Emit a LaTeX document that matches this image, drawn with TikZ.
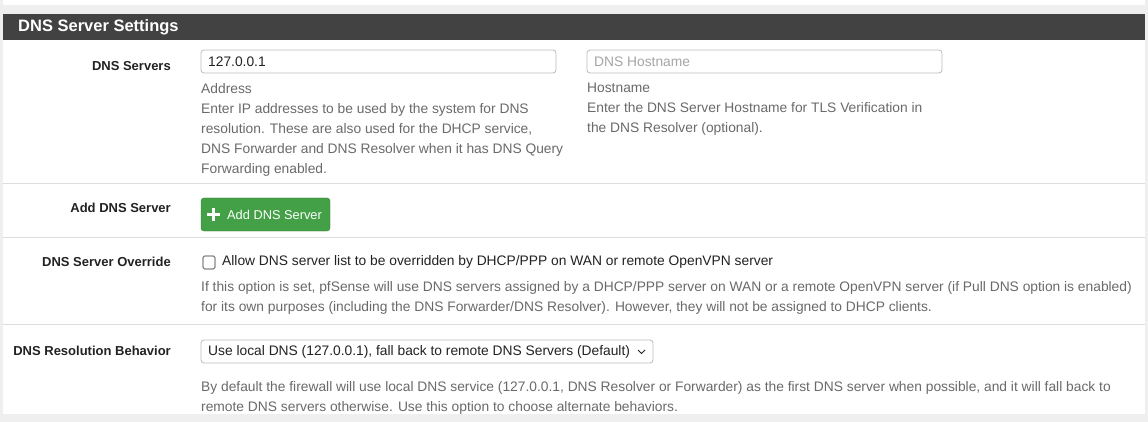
\documentclass[tikz,border=0pt]{standalone}
\usepackage{fontspec}
\setmainfont{Liberation Sans}
\definecolor{pagebg}{HTML}{EFEFEF}
\definecolor{headbg}{HTML}{424242}
\definecolor{rule}{HTML}{DDDDDD}
\definecolor{helptext}{HTML}{6A6A6A}
\definecolor{labeltext}{HTML}{222222}
\definecolor{btngreen}{HTML}{43A047}
\definecolor{boxline}{HTML}{BBBBBB}
\tikzset{
  lbl/.style={anchor=east, font=\fontsize{13}{15}\selectfont\bfseries, text=labeltext, inner sep=0pt},
  help/.style={anchor=west, font=\fontsize{13.8}{20}\selectfont, text=helptext, inner sep=0pt, align=left},
  field/.style={draw=boxline, rounded corners=3pt, fill=white, line width=0.8pt},
  val/.style={anchor=west, font=\fontsize{13.8}{15}\selectfont, text=labeltext, inner sep=0pt}
}
\begin{document}
\begin{tikzpicture}[x=1pt, y=-1pt]
\useasboundingbox[fill=pagebg] (0,0) rectangle (1148,422);
% panels
\fill[white] (3,0) rectangle (1145,5);
\fill[white] (3,14) rectangle (1145,414);
\fill[headbg] (3,14) rectangle (1145,40);
\node[anchor=west, text=white, font=\fontsize{16.5}{18}\selectfont\bfseries, inner sep=0pt] (title) at (18,27) {DNS Server Settings};
% row rules
\foreach \yy in {183,237,324}
  \draw[rule, line width=0.8pt] (3,\yy) -- (1145,\yy);
% labels
\node[lbl] (lservers) at (171,66) {DNS Servers};
\node[lbl] (ladd) at (171,208) {Add DNS Server};
\node[lbl] (loverride) at (171,262) {DNS Server Override};
\node[lbl] (lbehav) at (171,351) {DNS Resolution Behavior};
% DNS servers row
\draw[field] (201,50) rectangle (556,73);
\node[val] (addr) at (208,61.5) {127.0.0.1};
\draw[field] (587,50) rectangle (942,73);
\node[val, text=helptext!60] (host) at (594,61.5) {DNS Hostname};
\node[help, anchor=north west] (addrhelp) at (201,83) {Address\\Enter IP addresses to be used by the system for DNS\\resolution. These are also used for the DHCP service,\\DNS Forwarder and DNS Resolver when it has DNS Query\\Forwarding enabled.};
\node[help, anchor=north west] (hosthelp) at (587,83) {Hostname\\Enter the DNS Server Hostname for TLS Verification in\\the DNS Resolver (optional).};
% add button
\draw[fill=btngreen, draw=btngreen!80!black, rounded corners=3pt] (201,198) rectangle (330,231);
\draw[white, line width=2.2pt] (207,214.5) -- (220,214.5) (213.5,208) -- (213.5,221);
\node[val, text=white, font=\fontsize{12.8}{15}\selectfont] (addbtn) at (227,214.5) {Add DNS Server};
% override row
\draw[draw=labeltext, rounded corners=1.5pt, line width=0.7pt] (203,256) rectangle (215,269);
\node[val] (ovtext) at (222,262) {Allow DNS server list to be overridden by DHCP/PPP on WAN or remote OpenVPN server};
\node[help, anchor=north west] (ovhelp) at (201,281) {If this option is set, pfSense will use DNS servers assigned by a DHCP/PPP server on WAN or a remote OpenVPN server (if Pull DNS option is enabled)\\for its own purposes (including the DNS Forwarder/DNS Resolver). However, they will not be assigned to DHCP clients.};
% behaviour row
\draw[field] (201,340) rectangle (653,363);
\node[val] (sel) at (208,351.5) {Use local DNS (127.0.0.1), fall back to remote DNS Servers (Default)};
\draw[labeltext, line width=0.8pt] (638,350) -- (641.5,353.5) -- (645,350);
\node[help, anchor=north west] (behelp) at (201,381) {By default the firewall will use local DNS service (127.0.0.1, DNS Resolver or Forwarder) as the first DNS server when possible, and it will fall back to\\remote DNS servers otherwise. Use this option to choose alternate behaviors.};
\end{tikzpicture}
\end{document}
